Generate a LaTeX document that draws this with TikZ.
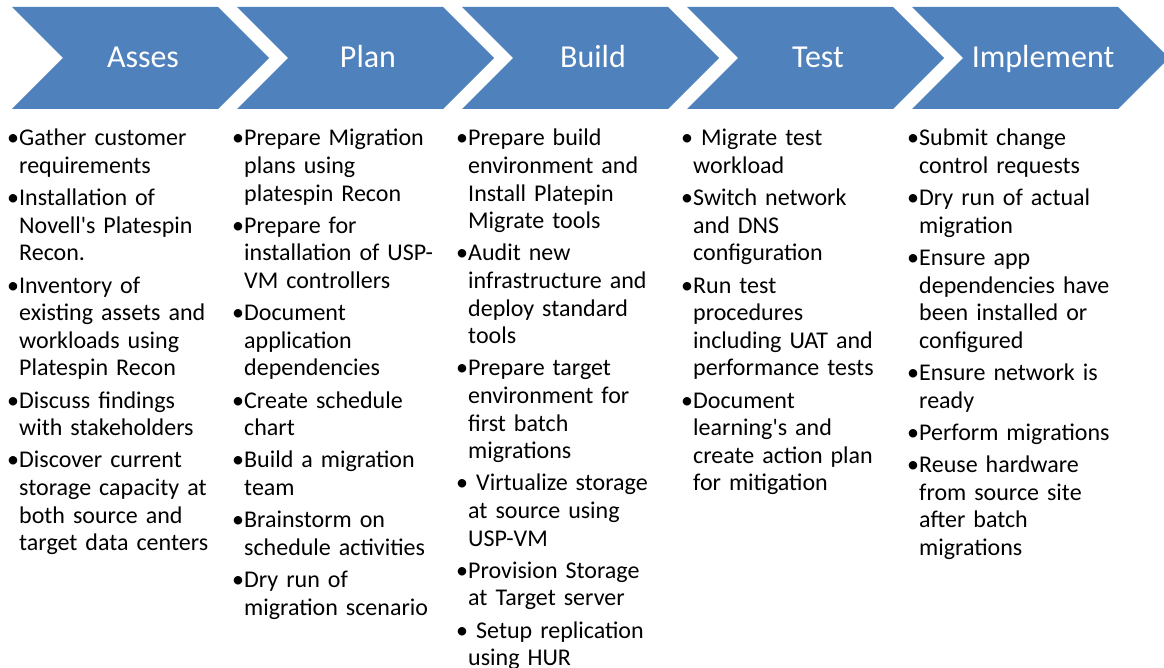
\documentclass[tikz,border=0pt]{standalone}
\usepackage{fontspec}
\setmainfont{Carlito}
\definecolor{chevblue}{HTML}{4F81BD}
\newcommand\itmfirst{\parskip=4.6pt\hangindent=12pt\hangafter=1\noindent\makebox[12pt][l]{\textbullet}}
\newcommand\itm{\par\itmfirst}

\begin{document}
\begin{tikzpicture}[x=1pt,y=-1pt,
	stage/.style={text=white,font=\fontsize{32}{38}\selectfont,anchor=base,inner sep=0pt},
	tasks/.style={anchor=base west,inner sep=0pt,text width=225pt,font=\fontsize{24}{27.6}\selectfont}]
			%%%%% START %%%%%
			\useasboundingbox (0,0) rectangle (1164,668);
			
			% chevrons
			\foreach \name/\txt [count=\i from 0] in {asses/Asses,plan/Plan,build/Build,test/Test,implement/Implement}{
				\pgfmathsetmacro\lft{12+225*\i}
				\fill[chevblue] (\lft,7) -- ++(206,0) -- ++(51,51) -- ++(-51,51) -- ++(-206,0) -- ++(51,-51) -- cycle;
				\node[stage] (\name) at (\lft+131,68) {\txt};
			}
			
			% task lists
			\node[tasks] (assesList) at (7,146) {\itmfirst Gather customer\newline requirements
				\itm Installation of\newline Novell\textquotesingle s Platespin\newline Recon.
				\itm Inventory of\newline existing assets and\newline workloads using\newline Platespin Recon
				\itm Discuss findings\newline with stakeholders
				\itm Discover current\newline storage capacity at\newline both source and\newline target data centers\par};
			
			\node[tasks] (planList) at (232,146) {\itmfirst Prepare Migration\newline plans using\newline platespin Recon
				\itm Prepare for\newline installation of USP-\newline VM controllers
				\itm Document\newline application\newline dependencies
				\itm Create schedule\newline chart
				\itm Build a migration\newline team
				\itm Brainstorm on\newline schedule activities
				\itm Dry run of\newline migration scenario\par};
			
			\node[tasks] (buildList) at (456,146) {\itmfirst Prepare build\newline environment and\newline Install Platepin\newline Migrate tools
				\itm Audit new\newline infrastructure and\newline deploy standard\newline tools
				\itm Prepare target\newline environment for\newline first batch\newline migrations
				\itm\ Virtualize storage\newline at source using\newline USP-VM
				\itm Provision Storage\newline at Target server
				\itm\ Setup replication\newline using HUR\par};
			
			\node[tasks] (testList) at (681,146) {\itmfirst\ Migrate test\newline workload
				\itm Switch network\newline and DNS\newline configuration
				\itm Run test\newline procedures\newline including UAT and\newline performance tests
				\itm Document\newline learning\textquotesingle s and\newline create action plan\newline for mitigation\par};
			
			\node[tasks] (implementList) at (907,146) {\itmfirst Submit change\newline control requests
				\itm Dry run of actual\newline migration
				\itm Ensure app\newline dependencies have\newline been installed or\newline configured
				\itm Ensure network is\newline ready
				\itm Perform migrations
				\itm Reuse hardware\newline from source site\newline after batch\newline migrations\par};
			%%%%% END %%%%%
\end{tikzpicture}
\end{document}
